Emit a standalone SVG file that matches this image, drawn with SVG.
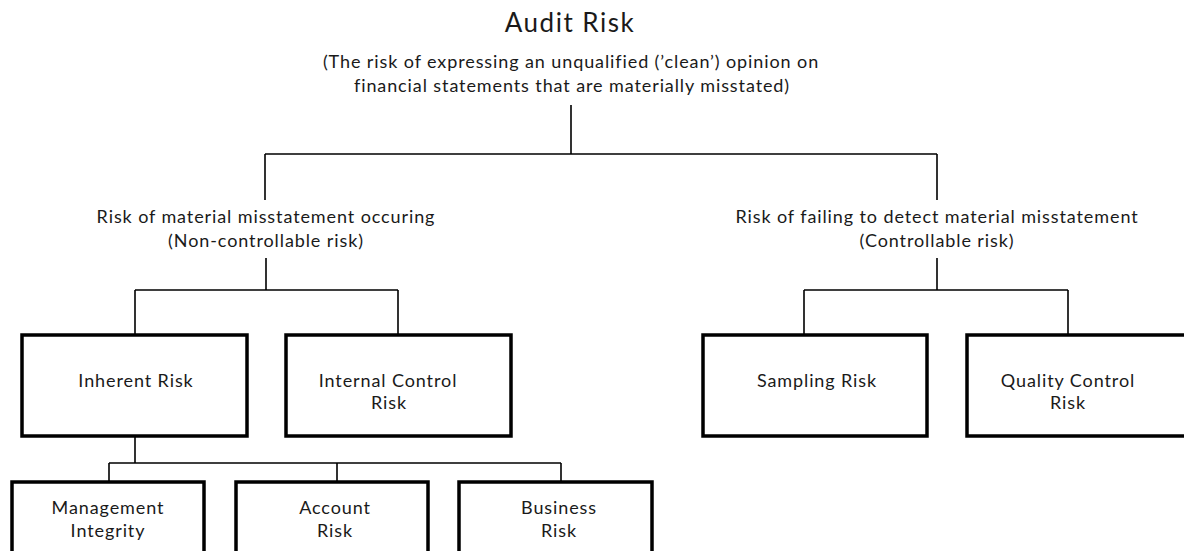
<svg xmlns="http://www.w3.org/2000/svg" width="1184" height="551" viewBox="0 0 1184 551">
<style>
  text { font-family: Lato, "Open Sans", "Liberation Sans", sans-serif; fill: #1a1a1a; text-anchor: middle; }
  .t { font-size: 26px; letter-spacing: 1.5px; }
  .s { font-size: 18px; letter-spacing: 0.9px; }
  .b { fill: #ffffff; stroke: #000000; stroke-width: 3.5; }
  .c { fill: none; stroke: #000000; stroke-width: 1.6; }
</style>
<rect width="1184" height="551" fill="#ffffff"/>
<g id="connectors">
  <path class="c" d="M571 105 V154 M265 154 H937 M265 154 V200 M937 154 V200"/>
  <path class="c" d="M266 258 V290 M135 290 H398 M135 290 V335 M398 290 V335"/>
  <path class="c" d="M937 258 V290 M804 290 H1068 M804 290 V335 M1068 290 V335"/>
  <path class="c" d="M135 436 V463 M109 463 H561 M109 463 V482 M337 463 V482 M561 463 V482"/>
</g>
<g id="audit-risk">
  <text class="t" x="570" y="32">Audit Risk</text>
  <text class="s" x="571" y="68">(The risk of expressing an unqualified (’clean’) opinion on</text>
  <text class="s" x="572" y="92">financial statements that are materially misstated)</text>
</g>
<g id="non-controllable">
  <text class="s" x="266" y="223">Risk of material misstatement occuring</text>
  <text class="s" x="266" y="247">(Non-controllable risk)</text>
</g>
<g id="controllable">
  <text class="s" x="937" y="223">Risk of failing to detect material misstatement</text>
  <text class="s" x="937" y="247">(Controllable risk)</text>
</g>
<g id="inherent-risk">
  <rect class="b" x="22" y="335" width="225" height="101"/>
  <text class="s" x="136" y="387">Inherent Risk</text>
</g>
<g id="internal-control-risk">
  <rect class="b" x="286" y="335" width="225" height="101"/>
  <text class="s" x="388" y="387">Internal Control</text>
  <text class="s" x="389" y="409">Risk</text>
</g>
<g id="sampling-risk">
  <rect class="b" x="703" y="335" width="224" height="101"/>
  <text class="s" x="817" y="387">Sampling Risk</text>
</g>
<g id="quality-control-risk">
  <rect class="b" x="967" y="335" width="224" height="101"/>
  <text class="s" x="1068" y="387">Quality Control</text>
  <text class="s" x="1068" y="409">Risk</text>
</g>
<g id="management-integrity">
  <rect class="b" x="12" y="482" width="192" height="101"/>
  <text class="s" x="108" y="514">Management</text>
  <text class="s" x="108" y="537">Integrity</text>
</g>
<g id="account-risk">
  <rect class="b" x="236" y="482" width="192" height="101"/>
  <text class="s" x="335" y="514">Account</text>
  <text class="s" x="335" y="537">Risk</text>
</g>
<g id="business-risk">
  <rect class="b" x="459" y="482" width="193" height="101"/>
  <text class="s" x="559" y="514">Business</text>
  <text class="s" x="559" y="537">Risk</text>
</g>
</svg>
